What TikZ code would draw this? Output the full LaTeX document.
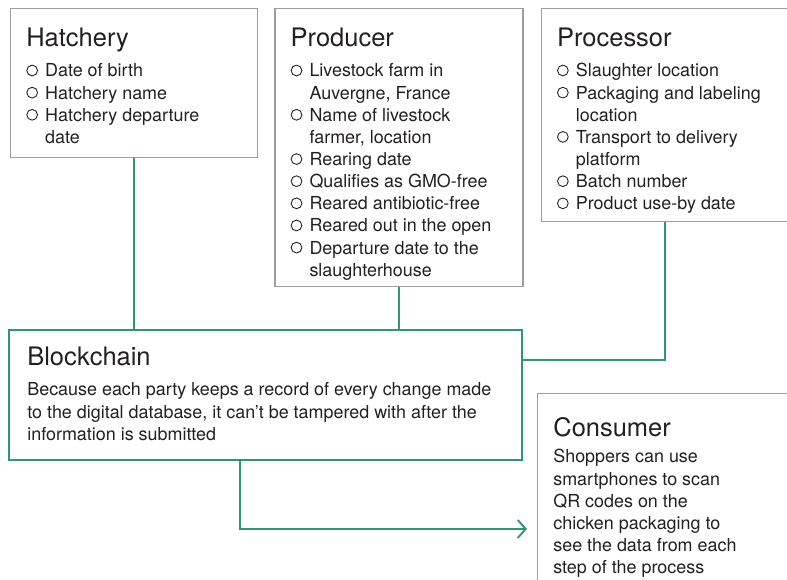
\documentclass[tikz,border=0pt]{standalone}
\usepackage{fontspec}
\setmainfont{TeX Gyre Heros}
\usetikzlibrary{positioning,arrows.meta}

\definecolor{linkgreen}{RGB}{52,150,112}
\definecolor{framegray}{RGB}{158,158,158}
\definecolor{inkgray}{RGB}{35,31,32}

% open circle in front of each list entry, and the indent of a wrapped line
\newcommand{\bul}{\makebox[1.05em][l]{\tikz[baseline]\draw[inkgray, line width=0.5pt] (0.3em,0.36em) circle (0.3em);}}
\newcommand{\hang}{\hspace*{1.05em}}
\newcommand{\boxtitle}[1]{{\fontsize{14.5}{17}\selectfont #1}\\[4.5pt]}

\begin{document}
\begin{tikzpicture}[
    x=0.02cm, y=-0.02cm,
    framebox/.style={
        draw=framegray,
        line width=0.8pt,
        rectangle,
        inner sep=0pt
    },
    chainbox/.style={framebox, draw=linkgreen, line width=1.1pt},
    boxtext/.style={
        inner sep=0pt,
        align=left,
        text=inkgray,
        font=\fontsize{10.2}{12.6}\selectfont
    },
    link/.style={draw=linkgreen, line width=1.1pt},
    arrow/.style={link, -{Straight Barb[length=1.6mm, width=3.6mm, line width=1.1pt]}}
]
\useasboundingbox (0,0) rectangle (787,580);
\clip (0,0) rectangle (787,580);

% the three parties on top
\node[framebox, minimum width=4.94cm, minimum height=2.98cm, anchor=north west] (hatch) at (10,8) {};
\node[framebox, minimum width=4.96cm, minimum height=5.56cm, right=0.32cm of hatch.north east, anchor=north west] (prod) {};
\node[framebox, minimum width=4.94cm, minimum height=4.26cm, right=0.34cm of prod.north east, anchor=north west] (proc) {};

% blockchain and consumer
\node[chainbox, minimum width=10.26cm, minimum height=2.6cm, anchor=north west] (chain) at (8,329) {};
\node[framebox, minimum width=5.4cm, minimum height=4.5cm, anchor=north west] (cons) at (537,393) {};

\node[boxtext, below right=0.4cm and 0.32cm of hatch.north west] (hatchtxt) {%
    \boxtitle{Hatchery}
    \bul Date of birth\\
    \bul Hatchery name\\
    \bul Hatchery departure\\
    \hang date};

\node[boxtext, below right=0.4cm and 0.32cm of prod.north west] (prodtxt) {%
    \boxtitle{Producer}
    \bul Livestock farm in\\
    \hang Auvergne, France\\
    \bul Name of livestock\\
    \hang farmer, location\\
    \bul Rearing date\\
    \bul Qualifies as GMO-free\\
    \bul Reared antibiotic-free\\
    \bul Reared out in the open\\
    \bul Departure date to the\\
    \hang slaughterhouse};

\node[boxtext, below right=0.4cm and 0.32cm of proc.north west] (proctxt) {%
    \boxtitle{Processor}
    \bul Slaughter location\\
    \bul Packaging and labeling\\
    \hang location\\
    \bul Transport to delivery\\
    \hang platform\\
    \bul Batch number\\
    \bul Product use-by date};

\node[boxtext, below right=0.36cm and 0.38cm of chain.north west] (chaintxt) {%
    \boxtitle{Blockchain}
    Because each party keeps a record of every change made\\
    to the digital database, it can’t be tampered with after the\\
    information is submitted};

\node[boxtext, below right=0.48cm and 0.32cm of cons.north west] (constxt) {%
    {\fontsize{14.5}{17}\selectfont Consumer}\\[2.5pt]
    Shoppers can use\\
    smartphones to scan\\
    QR codes on the\\
    chicken packaging to\\
    see the data from each\\
    step of the process};

% connectors
\draw[link] (hatch.south) -- (hatch.south |- chain.north);
\draw[link] (prod.south) -- (prod.south |- chain.north);
\draw[link] (proc.south) |- ([yshift=-0.62cm]chain.north east);
\draw[arrow] ([xshift=4.64cm]chain.south west) |- ([xshift=-0.2cm, yshift=-2.72cm]cons.north west);

\end{tikzpicture}
\end{document}
